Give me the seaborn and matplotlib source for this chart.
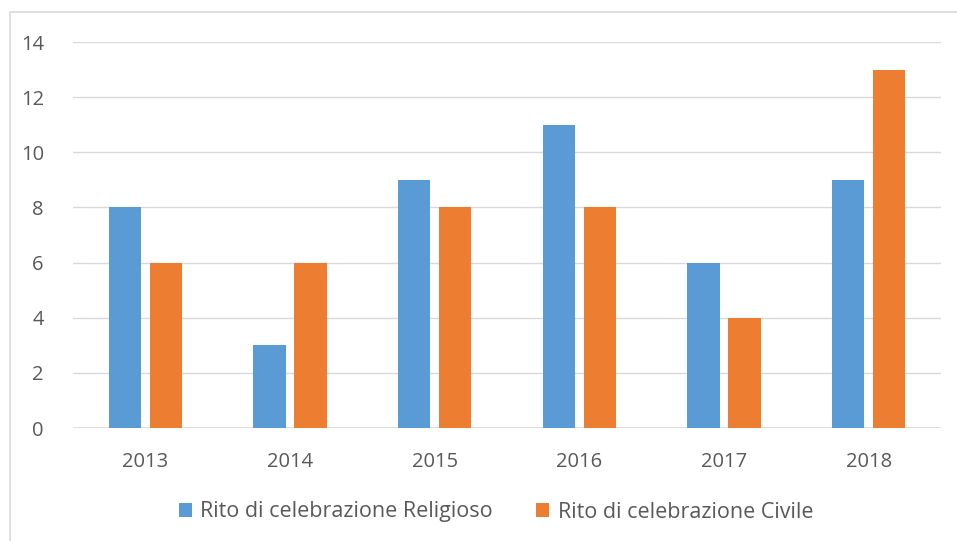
import matplotlib
matplotlib.use("Agg")
import matplotlib.pyplot as plt
import seaborn as sns
import pandas as pd
from matplotlib.patches import Rectangle, Patch

years = ["2013", "2014", "2015", "2016", "2017", "2018"]
religioso = [8, 3, 9, 11, 6, 9]
civile = [6, 6, 8, 8, 4, 13]
series_names = ["Rito di celebrazione Religioso", "Rito di celebrazione Civile"]
colors = ["#5B9BD5", "#ED7D31"]
yticks = [0, 2, 4, 6, 8, 10, 12, 14]

df = pd.DataFrame({
    "Anno": years * 2,
    "Valore": religioso + civile,
    "Serie": [series_names[0]] * len(years) + [series_names[1]] * len(years),
})

sns.set_style("white")
plt.rcParams["font.family"] = ["Open Sans", "DejaVu Sans"]
text_color = "#595959"

W, H = 957, 541
fig = plt.figure(figsize=(W / 100, H / 100), dpi=100)
ax = fig.add_axes([73 / W, 1 - 428 / H, (941 - 73) / W, (428 - 42) / H])

sns.barplot(data=df, x="Anno", y="Valore", hue="Serie", palette=colors,
            width=0.567, gap=0.21, ax=ax, legend=False, saturation=1,
            edgecolor="none", linewidth=0, zorder=3)

ax.set_ylim(0, 14)
ax.set_yticks(yticks)
ax.set_yticklabels([str(v) for v in yticks])
ax.set_xlim(-0.5, len(years) - 0.5)
ax.set_xlabel("")
ax.set_ylabel("")
ax.yaxis.grid(True, color="#d9d9d9", linewidth=1.0, zorder=0)
ax.set_axisbelow(True)
for s in ax.spines.values():
    s.set_visible(False)
ax.axhline(0, color="#d9d9d9", linewidth=1.2, zorder=2)
ax.tick_params(axis="both", length=0, labelsize=14.5, labelcolor=text_color)
ax.tick_params(axis="y", pad=21)
ax.tick_params(axis="x", pad=17)

# chart frame (top and left edges visible, the rest runs off the image)
fig.patches.append(Rectangle((9.5 / W, -0.05), 1.2, 1.05 - 12.5 / H, transform=fig.transFigure,
                             fill=False, edgecolor="#d9d9d9", linewidth=1.2))

handles = [Patch(facecolor=c, edgecolor="none") for c in colors]
fig.legend(handles, series_names, loc="center", bbox_to_anchor=(496 / W, 1 - 512 / H),
           ncol=2, frameon=False, fontsize=15.5, labelcolor=text_color,
           handlelength=0.6, handleheight=0.6, handletextpad=0.4, columnspacing=2.0)

fig.savefig("out.png", dpi=100)
